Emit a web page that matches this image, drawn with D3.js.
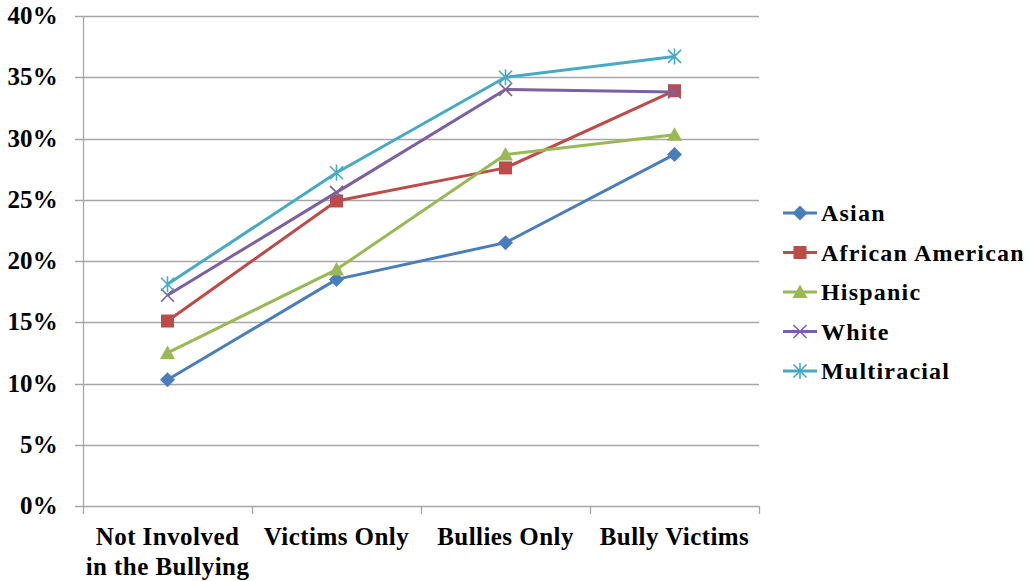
<!DOCTYPE html>
<html>
<head>
<meta charset="utf-8">
<script src="https://cdn.jsdelivr.net/npm/d3@7"></script>
<style>
  body { margin: 0; background: #fff; }
  text { font-family: "Liberation Serif", "Times New Roman", serif; font-weight: bold; fill: #000; }
</style>
</head>
<body>
<div id="main"></div>
<script>
var categories = ["Not Involved|in the Bullying", "Victims Only", "Bullies Only", "Bully Victims"];
var seriesNames = ["Asian", "African American", "Hispanic", "White", "Multiracial"];
var asian = [10.3, 18.5, 21.5, 28.7];
var africanAmerican = [15.1, 24.9, 27.6, 33.9];
var hispanic = [12.5, 19.3, 28.7, 30.3];
var white = [17.2, 25.6, 34.0, 33.8];
var multiracial = [18.1, 27.2, 35.0, 36.7];
var yTicks = [0, 5, 10, 15, 20, 25, 30, 35, 40];

var ctx = {
    w: 1031,
    h: 581,
    left: 83,
    right: 759,
    top: 16,
    bottom: 506
};

var colors = ["#4a7ebb", "#be4b48", "#98b954", "#7d60a0", "#46aac5"];
var symbolsOf = ["diamond", "square", "triangle", "x", "star"];

var series = [asian, africanAmerican, hispanic, white, multiracial].map(function(vals, i){
    return { name: seriesNames[i], values: vals, color: colors[i], marker: symbolsOf[i] };
});

var svg = d3.select("#main").append("svg")
    .attr("width", ctx.w)
    .attr("height", ctx.h);

var x = d3.scaleBand().domain(categories).range([ctx.left, ctx.right]);
var y = d3.scaleLinear().domain([0, 40]).range([ctx.bottom, ctx.top]);

// gridlines
svg.append("g").selectAll("line")
    .data(yTicks)
    .enter().append("line")
    .attr("x1", ctx.left - 8)
    .attr("x2", ctx.right)
    .attr("y1", function(d){ return Math.round(y(d)) + 0.5; })
    .attr("y2", function(d){ return Math.round(y(d)) + 0.5; })
    .style("stroke", "#a6a6a6")
    .style("stroke-width", 1.3);

// y axis line
svg.append("line")
    .attr("x1", ctx.left + 0.5).attr("x2", ctx.left + 0.5)
    .attr("y1", ctx.top).attr("y2", ctx.bottom)
    .style("stroke", "#a6a6a6").style("stroke-width", 1.3);

// x tick marks
var xEdges = categories.map(function(c){ return x(c); }).concat([ctx.right]);
svg.append("g").selectAll("line")
    .data(xEdges)
    .enter().append("line")
    .attr("x1", function(d){ return Math.round(d) + 0.5; })
    .attr("x2", function(d){ return Math.round(d) + 0.5; })
    .attr("y1", ctx.bottom)
    .attr("y2", ctx.bottom + 8)
    .style("stroke", "#a6a6a6").style("stroke-width", 1.3);

// y labels
svg.append("g").selectAll("text")
    .data(yTicks)
    .enter().append("text")
    .attr("x", 58)
    .attr("y", function(d){ return y(d) + 8; })
    .attr("text-anchor", "end")
    .style("font-size", "25px")
    .style("letter-spacing", "0.2px")
    .text(function(d){ return d + "%"; });

// x labels
var xl = svg.append("g").selectAll("text")
    .data(categories)
    .enter().append("text")
    .attr("text-anchor", "middle")
    .style("font-size", "25px")
    .style("letter-spacing", "0.45px");
xl.selectAll("tspan")
    .data(function(d){ return d.split("|").map(function(s){ return { s: s, c: d }; }); })
    .enter().append("tspan")
    .attr("x", function(d){ return x(d.c) + x.bandwidth() / 2; })
    .attr("y", function(d, i){ return 545 + i * 30; })
    .text(function(d){ return d.s; });

function drawMarker(g, type, color){
    if (type === "diamond") {
        g.append("path").attr("d", "M0,-7.5L7.5,0L0,7.5L-7.5,0Z")
            .style("fill", color);
    } else if (type === "square") {
        g.append("rect").attr("x", -6.5).attr("y", -6.5).attr("width", 13).attr("height", 13)
            .style("fill", color);
    } else if (type === "triangle") {
        g.append("path").attr("d", "M0,-7.5L7.5,6L-7.5,6Z").style("fill", color);
    } else if (type === "x") {
        g.append("path").attr("d", "M-6.5,-6.5L6.5,6.5M-6.5,6.5L6.5,-6.5")
            .style("stroke", color).style("stroke-width", 1.6).style("fill", "none");
    } else if (type === "star") {
        g.append("path").attr("d", "M-6.5,-6.5L6.5,6.5M-6.5,6.5L6.5,-6.5M0,-8L0,8")
            .style("stroke", color).style("stroke-width", 1.6).style("fill", "none");
    }
}

var line = d3.line()
    .x(function(d, i){ return x(categories[i]) + x.bandwidth() / 2; })
    .y(function(d){ return y(d); });

series.forEach(function(s){
    var g = svg.append("g");
    g.append("path")
        .attr("d", line(s.values))
        .style("fill", "none")
        .style("stroke", s.color)
        .style("stroke-width", 3)
        .style("stroke-linejoin", "round");
    s.values.forEach(function(v, i){
        var m = g.append("g")
            .attr("transform", "translate(" + (x(categories[i]) + x.bandwidth() / 2) + "," + y(v) + ")");
        drawMarker(m, s.marker, s.color);
    });
});

// legend
var legend = svg.append("g").attr("transform", "translate(783,213)");
series.forEach(function(s, i){
    var row = legend.append("g").attr("transform", "translate(0," + (i * 39.5) + ")");
    row.append("line").attr("x1", 0).attr("x2", 34).attr("y1", 0).attr("y2", 0)
        .style("stroke", s.color).style("stroke-width", 3);
    var m = row.append("g").attr("transform", "translate(17,0)");
    drawMarker(m, s.marker, s.color);
    row.append("text").attr("x", 38).attr("y", 8)
        .style("font-size", "24px")
        .style("letter-spacing", "1.2px")
        .text(s.name);
});
</script>
</body>
</html>
